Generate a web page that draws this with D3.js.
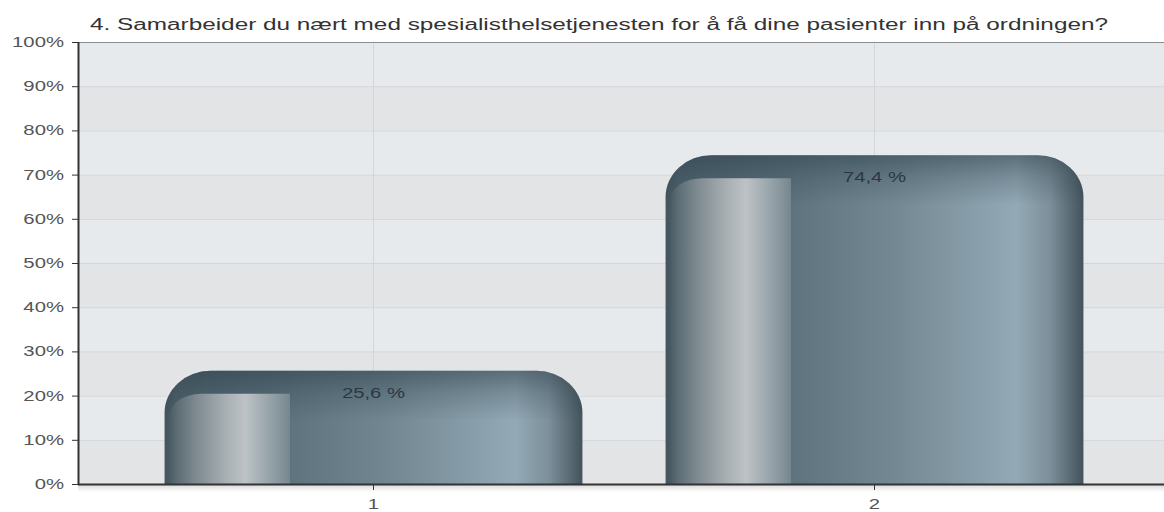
<!DOCTYPE html>
<html>
<head>
<meta charset="utf-8">
<script src="https://cdn.jsdelivr.net/npm/d3@7"></script>
<style>
  body { margin: 0; background: #fff; }
  text { font-family: "Liberation Sans", Arial, sans-serif; }
</style>
</head>
<body>
<div class="chart"></div>
<script>
// chart data
var title = "4. Samarbeider du nært med spesialisthelsetjenesten for å få dine pasienter inn på ordningen?";
var categories = ["1", "2"];
var values = [25.6, 74.4];
var valueLabels = ["25,6 %", "74,4 %"];
var yTicks = [0, 10, 20, 30, 40, 50, 60, 70, 80, 90, 100];

var svgWidth = 1164;
var svgHeight = 512;
var plot = { left: 78, right: 1164, top: 42, bottom: 484 };
// the source picture is stretched sideways, so text is widened to match
var textStretch = 1.45;

var svg = d3.select(".chart")
    .append("svg")
    .attr("width", svgWidth)
    .attr("height", svgHeight);

var defs = svg.append("defs");

function addGradient(id, stops, attrs) {
    var g = defs.append("linearGradient").attr("id", id);
    Object.keys(attrs).forEach(function(k) { g.attr(k, attrs[k]); });
    stops.forEach(function(s) {
        g.append("stop").attr("offset", s[0]).attr("stop-color", s[1])
            .attr("stop-opacity", s[2] === undefined ? 1 : s[2]);
    });
}

function widen(sel, k) {
    sel.each(function() {
        var len = this.getComputedTextLength();
        d3.select(this)
            .attr("textLength", len * k)
            .attr("lengthAdjust", "spacingAndGlyphs");
    });
}

// main bar body, horizontal
addGradient("barBody", [
    ["0%", "#44545c"], ["3%", "#4e626d"], ["30%", "#5e737e"],
    ["55%", "#738893"], ["84%", "#93a9b5"], ["92%", "#7c8f9a"], ["100%", "#43535c"]
], { x1: "0%", y1: "0%", x2: "100%", y2: "0%" });

// front highlight piece
addGradient("barFront", [
    ["0%", "#4b5b63"], ["6%", "#5c6c74"], ["22%", "#7e8a90"], ["48%", "#aab1b5"],
    ["63%", "#bcc2c5"], ["82%", "#98a5ab"], ["100%", "#77878f"]
], { x1: "0%", y1: "0%", x2: "100%", y2: "0%" });

// top shading
addGradient("barTop", [
    ["0%", "#2c3f49", 0.55], ["45%", "#2c3f49", 0.25], ["100%", "#2c3f49", 0]
], { x1: "0%", y1: "0%", x2: "0%", y2: "100%" });

addGradient("axisShadow", [
    ["0%", "#000", 0.14], ["100%", "#000", 0]
], { x1: "0%", y1: "0%", x2: "0%", y2: "100%" });

var x = d3.scaleBand()
    .domain(categories)
    .range([123, 1125])
    .paddingInner(0.166)
    .paddingOuter(0.083);

var y = d3.scaleLinear()
    .domain([0, 100])
    .range([plot.bottom, plot.top]);

// background bands
var bandData = yTicks.slice(0, -1);
svg.append("g").selectAll("rect")
    .data(bandData)
    .enter()
    .append("rect")
    .attr("x", plot.left)
    .attr("y", function(d) { return y(d + 10); })
    .attr("width", plot.right - plot.left)
    .attr("height", function(d) { return y(d) - y(d + 10); })
    .attr("fill", function(d, i) { return i % 2 === 0 ? "#e3e4e6" : "#e7eaed"; });

// grid lines
svg.append("g").selectAll("line")
    .data(yTicks)
    .enter()
    .append("line")
    .attr("x1", plot.left)
    .attr("x2", plot.right)
    .attr("y1", function(d) { return y(d) + 0.5; })
    .attr("y2", function(d) { return y(d) + 0.5; })
    .attr("stroke", "#d3d5d8");

svg.append("g").selectAll("line")
    .data(categories)
    .enter()
    .append("line")
    .attr("x1", function(d) { return x(d) + x.bandwidth() / 2; })
    .attr("x2", function(d) { return x(d) + x.bandwidth() / 2; })
    .attr("y1", plot.top)
    .attr("y2", plot.bottom)
    .attr("stroke", "#d3d5d8");

// top border of plot
svg.append("line")
    .attr("x1", plot.left).attr("x2", plot.right)
    .attr("y1", plot.top + 0.5).attr("y2", plot.top + 0.5)
    .attr("stroke", "#8a8c8e");

// bars
function topRounded(bx, by, w, h, rx, ry) {
    return "M" + bx + "," + (by + h) +
        "L" + bx + "," + (by + ry) +
        "A" + rx + "," + ry + " 0 0 1 " + (bx + rx) + "," + by +
        "L" + (bx + w - rx) + "," + by +
        "A" + rx + "," + ry + " 0 0 1 " + (bx + w) + "," + (by + ry) +
        "L" + (bx + w) + "," + (by + h) + "Z";
}

function topLeftRounded(bx, by, w, h, rx, ry) {
    return "M" + bx + "," + (by + h) +
        "L" + bx + "," + (by + ry) +
        "A" + rx + "," + ry + " 0 0 1 " + (bx + rx) + "," + by +
        "L" + (bx + w) + "," + by +
        "L" + (bx + w) + "," + (by + h) + "Z";
}

var bars = svg.append("g").selectAll("g")
    .data(values)
    .enter()
    .append("g");

bars.append("path")
    .attr("d", function(d, i) {
        return topRounded(x(categories[i]), y(d), x.bandwidth(), y(0) - y(d), 46, 42);
    })
    .attr("fill", "url(#barBody)");

bars.append("path")
    .attr("d", function(d, i) {
        return topRounded(x(categories[i]), y(d), x.bandwidth(), Math.min(50, y(0) - y(d)), 46, 42);
    })
    .attr("fill", "url(#barTop)");

bars.append("path")
    .attr("d", function(d, i) {
        var w = x.bandwidth();
        return topLeftRounded(x(categories[i]) + 5, y(d) + 23, w * 0.3 - 5, y(0) - y(d) - 23, 32, 22);
    })
    .attr("fill", "url(#barFront)");

// value labels
bars.append("text")
    .attr("x", function(d, i) { return x(categories[i]) + x.bandwidth() / 2; })
    .attr("y", function(d) { return y(d) + 27; })
    .attr("text-anchor", "middle")
    .attr("font-size", "14px")
    .attr("fill", "#2b3841")
    .text(function(d, i) { return valueLabels[i]; })
    .call(widen, textStretch);

// axis shadow
svg.append("rect")
    .attr("x", plot.left)
    .attr("y", plot.bottom + 1)
    .attr("width", plot.right - plot.left)
    .attr("height", 7)
    .attr("fill", "url(#axisShadow)");

// axes
var leftAxis = d3.axisLeft(y)
    .tickValues(yTicks)
    .tickSize(6)
    .tickPadding(8)
    .tickFormat(function(d) { return d + "%"; });

var gy = svg.append("g")
    .attr("transform", "translate(" + plot.left + ",0)")
    .call(leftAxis);
gy.select(".domain").remove();
gy.append("line")
    .attr("x1", 0.5).attr("x2", 0.5)
    .attr("y1", plot.top).attr("y2", plot.bottom)
    .attr("stroke", "#333").attr("stroke-width", 2);

var bottomAxis = d3.axisBottom(x)
    .tickSize(6)
    .tickPadding(9);

var gx = svg.append("g")
    .attr("transform", "translate(0," + plot.bottom + ")")
    .call(bottomAxis);
gx.select(".domain").remove();
gx.append("line")
    .attr("x1", plot.left).attr("x2", plot.right)
    .attr("y1", 0.5).attr("y2", 0.5)
    .attr("stroke", "#333").attr("stroke-width", 2);

svg.selectAll(".tick line").attr("stroke", "#333");
svg.selectAll(".tick text")
    .attr("font-size", "14px")
    .attr("font-family", "'Liberation Sans', Arial, sans-serif")
    .attr("fill", "#555")
    .call(widen, textStretch);

// title
svg.append("text")
    .attr("x", 90)
    .attr("y", 30)
    .attr("font-size", "16px")
    .attr("fill", "#333")
    .attr("textLength", 1018)
    .attr("lengthAdjust", "spacingAndGlyphs")
    .text(title);
</script>
</body>
</html>
